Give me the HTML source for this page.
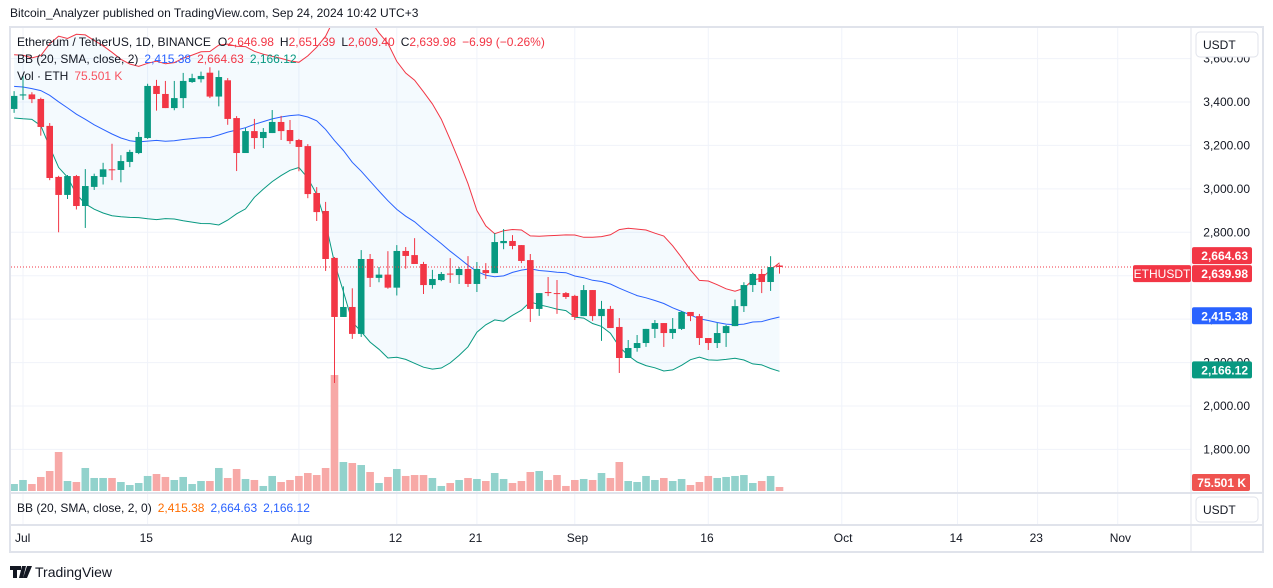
<!DOCTYPE html>
<html><head><meta charset="utf-8"><style>
html,body{margin:0;padding:0;background:#fff;width:1273px;height:588px;overflow:hidden}
svg{display:block;font-family:"Liberation Sans",sans-serif}
</style></head><body>
<svg id="chart" width="1273" height="588" viewBox="0 0 1273 588" xmlns="http://www.w3.org/2000/svg">
<text x="10" y="17" font-size="12" fill="#131722">Bitcoin_Analyzer published on TradingView.com, Sep 24, 2024 10:42 UTC+3</text>
<rect x="10" y="27" width="1253" height="525" fill="#fff" stroke="#e0e3eb" stroke-width="2"/>
<g id="grid"></g>
<g id="plot" clip-path="url(#clipMain)"></g>
<defs><clipPath id="clipMain"><rect x="11" y="28" width="1180" height="465"/></clipPath></defs>
<line x1="1191" y1="27" x2="1191" y2="552" stroke="#e0e3eb"/>
<line x1="10" y1="493" x2="1263" y2="493" stroke="#e0e3eb" stroke-width="2"/>
<line x1="10" y1="525" x2="1263" y2="525" stroke="#e0e3eb" stroke-width="2"/>
<g id="yaxis"></g>
<g id="xaxis"></g>
<g><rect x="1196" y="32" width="62" height="25" rx="4" fill="#fff" stroke="#e0e3eb"/><text x="1203" y="49" font-size="12" fill="#131722">USDT</text></g>
<g><rect x="1196" y="497" width="62" height="25" rx="4" fill="#fff" stroke="#e0e3eb"/><text x="1203" y="514" font-size="12" fill="#131722">USDT</text></g>
<g font-size="12">
<text x="17" y="46" fill="#131722">Ethereum / TetherUS, 1D, BINANCE<tspan dx="7" fill="#131722">O</tspan><tspan fill="#f23645">2,646.98</tspan><tspan dx="6" fill="#131722">H</tspan><tspan fill="#f23645">2,651.39</tspan><tspan dx="6" fill="#131722">L</tspan><tspan fill="#f23645">2,609.40</tspan><tspan dx="6" fill="#131722">C</tspan><tspan fill="#f23645">2,639.98</tspan><tspan dx="6" fill="#f23645">−6.99 (−0.26%)</tspan></text>
<text x="17" y="63" fill="#131722">BB (20, SMA, close, 2)<tspan dx="6" fill="#2962ff">2,415.38</tspan><tspan dx="6" fill="#f23645">2,664.63</tspan><tspan dx="6" fill="#089981">2,166.12</tspan></text>
<text x="17" y="80" fill="#131722">Vol · ETH<tspan dx="6" fill="#f7525f">75.501 K</tspan></text>
</g>
<text x="17" y="512" font-size="12" fill="#131722">BB (20, SMA, close, 2, 0)<tspan dx="6" fill="#ff6d00">2,415.38</tspan><tspan dx="6" fill="#2962ff">2,664.63</tspan><tspan dx="6" fill="#2962ff">2,166.12</tspan></text>
<g><path d="M10 566h11v4h-4v8h-4v-8h-3z M22 566h4l-3 12h-4z M27 566h5l-5 12h-4z" fill="#131722"/><text x="35" y="577" font-size="14" fill="#131722">TradingView</text></g>
<g id="labels"></g>
</svg>
<script>
const opens=[3368,3430,3435,3414,3290,3055,2972,3059,2921,3009,3055,3090,3087,3124,3165,3234,3474,3437,3372,3418,3492,3505,3535,3425,3500,3326,3165,3266,3234,3257,3308,3271,3225,3197,2981,2898,2682,2410,2456,2332,2677,2590,2605,2545,2714,2695,2654,2557,2580,2610,2603,2631,2562,2626,2612,2750,2760,2741,2672,2447,2525,2520,2520,2507,2414,2534,2414,2447,2364,2221,2267,2290,2355,2382,2336,2355,2433,2414,2313,2290,2336,2368,2460,2557,2608,2571,2646.98];
const highs=[3450,3520,3445,3420,3303,3060,3064,3064,3091,3070,3120,3208,3155,3180,3262,3484,3502,3497,3497,3534,3530,3540,3560,3545,3510,3335,3280,3322,3280,3363,3336,3317,3230,3206,3008,2940,2686,2551,2542,2718,2700,2640,2713,2741,2732,2773,2664,2627,2617,2681,2640,2690,2663,2658,2796,2815,2787,2741,2700,2520,2594,2580,2525,2512,2557,2534,2484,2461,2405,2304,2327,2355,2396,2382,2405,2438,2433,2424,2313,2382,2373,2490,2570,2613,2631,2690,2651.39];
const lows=[3350,3410,3395,3245,3040,2800,2953,2905,2820,2995,3020,3040,3030,3100,3160,3230,3360,3372,3362,3372,3488,3490,3418,3380,3295,3082,3165,3184,3188,3257,3225,3207,3081,2957,2852,2622,2106,2410,2309,2318,2548,2570,2540,2509,2632,2654,2516,2540,2575,2567,2562,2548,2525,2585,2612,2722,2722,2658,2387,2415,2506,2424,2493,2396,2414,2392,2300,2359,2152,2221,2250,2272,2313,2272,2309,2350,2391,2281,2258,2267,2272,2368,2433,2525,2520,2530,2609.40];
const closes=[3428,3435,3413,3285,3050,2972,3059,2921,3013,3059,3090,3088,3128,3170,3239,3474,3437,3372,3418,3497,3510,3520,3425,3515,3322,3165,3266,3234,3262,3308,3266,3220,3193,2976,2893,2677,2410,2456,2332,2677,2590,2605,2545,2714,2691,2654,2557,2585,2608,2605,2631,2562,2631,2612,2755,2760,2737,2668,2447,2520,2520,2516,2502,2410,2534,2414,2447,2359,2221,2267,2290,2355,2382,2336,2355,2433,2414,2313,2290,2336,2368,2460,2557,2608,2571,2640,2639.98];
const volumesK=[132,208,132,265,378,737,189,170,435,246,246,246,170,113,151,284,321,265,208,265,132,189,189,435,246,416,227,208,95,284,170,208,284,340,302,435,2192,548,529,491,359,151,265,416,284,302,302,246,95,151,208,246,227,189,340,227,151,189,359,378,208,302,95,208,227,208,340,246,548,189,170,284,208,246,189,227,113,170,284,246,265,284,302,151,189,284,75.501];
const priorCloses=[3497,3560,3469,3482,3566,3620,3510,3483,3559,3513,3517,3495,3420,3350,3396,3371,3450,3380,3375];
const priceTicks=[3600,3400,3200,3000,2800,2600,2400,2200,2000,1800];
const timeTickDays=[0,14,31,42,51,62,77,92,105,114,123];
const timeTickLabels=["Jul","15","Aug","12","21","Sep","16","Oct","14","23","Nov"];
const lastLabels=[2664.63,2639.98,2415.38,2166.12];

const NS="http://www.w3.org/2000/svg";
const yP=p=>102+(3400-p)*0.21714;
const xDay=d=>23+d*8.9;
const xIdx=i=>xDay(i-1);
const yVol=v=>491-v/18.9;
function mk(tag,attrs,parent){const e=document.createElementNS(NS,tag);for(const k in attrs)e.setAttribute(k,attrs[k]);parent.appendChild(e);return e;}
const grid=document.getElementById('grid'),plot=document.getElementById('plot'),yax=document.getElementById('yaxis'),xax=document.getElementById('xaxis'),labels=document.getElementById('labels');
const fmt=v=>v.toLocaleString('en-US',{minimumFractionDigits:2,maximumFractionDigits:2});

priceTicks.forEach(p=>{
  const l=mk('line',{x1:11,x2:1191,y1:yP(p),y2:yP(p),stroke:'#f0f3fa'},grid);
  
  
  const t=mk('text',{x:1250,y:yP(p)+4,'font-size':12,'text-anchor':'end',fill:'#131722'},yax);
  t.textContent=fmt(p);
  
  
});
timeTickDays.forEach((d,k)=>{
  const l=mk('line',{x1:xDay(d),x2:xDay(d),y1:28,y2:525,stroke:'#f0f3fa'},grid);
  
  
  const t=mk('text',{x:k==0?15:xDay(d)-8,y:542,'font-size':12,fill:'#131722'},xax);
  t.textContent=timeTickLabels[k];
  
  
});

const all=priorCloses.concat(closes);
const up=[],mid=[],lo=[];
for(let i=0;i<closes.length;i++){
  const w=all.slice(i,i+20);const m=w.reduce((a,b)=>a+b,0)/20;
  const sd=Math.sqrt(w.reduce((a,b)=>a+(b-m)*(b-m),0)/20);
  mid.push(m);up.push(m+2*sd);lo.push(m-2*sd);
}
const pts=a=>a.map((v,i)=>xIdx(i).toFixed(1)+','+yP(v).toFixed(1));
const fill=mk('polygon',{points:pts(up).concat(pts(lo).reverse()).join(' '),fill:'rgba(33,150,243,0.05)'},plot);



volumesK.forEach((v,i)=>{
  const r=mk('rect',{x:xIdx(i)-3.8,y:yVol(v),width:7.6,height:491-yVol(v),fill:closes[i]>=opens[i]?'#92d2cc':'#f7a9a7'},plot);
  
  
});
[[up,'#f23645','bb-upper'],[mid,'#2962ff','bb-basis'],[lo,'#089981','bb-lower']].forEach(([a,c,n])=>{
  const pl=mk('polyline',{points:pts(a).join(' '),fill:'none',stroke:c,'stroke-width':1},plot);
  
  
});
closes.forEach((c,i)=>{
  const o=opens[i],col=c>=o?'#089981':'#f23645',x=xIdx(i);
  const w=mk('line',{x1:x,x2:x,y1:yP(highs[i]),y2:yP(lows[i]),stroke:col,'stroke-width':1},plot);
  
  
  const top=yP(Math.max(o,c)),h=Math.max(1,yP(Math.min(o,c))-top);
  const b=mk('rect',{x:x-3.3,y:top,width:6.6,height:h,fill:col},plot);
  
  
});
const lp=mk('line',{x1:11,x2:1191,y1:yP(closes[closes.length-1]),y2:yP(closes[closes.length-1]),stroke:'#f23645','stroke-dasharray':'1,2'},plot);



const cols=['#f23645','#f23645','#2962ff','#089981'];
const lblNames=['bb-upper-label','last-price-label','bb-basis-label','bb-lower-label'];
lastLabels.forEach((v,k)=>{
  let y=yP(v);
  if(k==0)y-=6;
  if(k==1)y=Math.max(y,yP(lastLabels[0])-6+18);
  const g=mk('g',{},labels);
  
  
  mk('rect',{x:1192,y:y-8.5,width:60,height:17,rx:2,fill:cols[k]},g);
  const t=mk('text',{x:1248,y:y+4.5,'font-size':12,'font-weight':'bold','text-anchor':'end',fill:'#fff'},g);
  t.textContent=fmt(v);
  if(k==1){
    mk('rect',{x:1133,y:y-8.5,width:58,height:17,rx:2,fill:'#f23645'},g);
    const s=mk('text',{x:1162,y:y+4.5,'font-size':12,'text-anchor':'middle',fill:'#fff'},g);
    s.textContent='ETHUSDT';
  }
});
const vg=mk('g',{},labels);


mk('rect',{x:1192,y:474,width:58,height:17,rx:2,fill:'#ef5350'},vg);
const vt=mk('text',{x:1246,y:487,'font-size':12,'font-weight':'bold','text-anchor':'end',fill:'#fff'},vg);
vt.textContent=volumesK[volumesK.length-1].toFixed(3)+' K';
</script>
</body></html>
